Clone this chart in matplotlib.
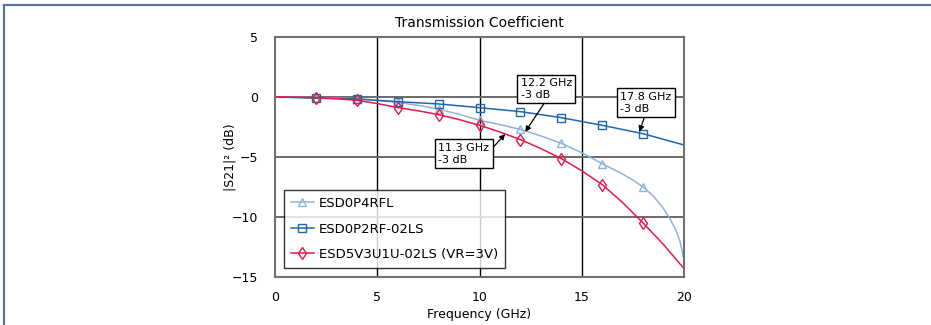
import matplotlib
matplotlib.use("Agg")
import matplotlib.pyplot as plt
from matplotlib.lines import Line2D

# marker frequencies (GHz)
freq_pts = [2, 4, 6, 8, 10, 12, 14, 16, 18]

# ESD0P4RFL (light blue, triangles)
p4rfl_pts = [-0.05, -0.15, -0.45, -1.0, -1.94, -2.7, -3.86, -5.55, -7.5]
p4rfl_f = [0, 1, 2, 3, 4, 5, 6, 7, 8, 9, 10, 11, 12, 13, 14, 15, 16, 17, 17.5, 18, 18.5, 19, 19.3, 19.6, 19.8, 20]
p4rfl_v = [0, -0.01, -0.05, -0.09, -0.15, -0.28, -0.45, -0.7, -1.0, -1.45, -1.94, -2.3, -2.7, -3.25, -3.86, -4.65, -5.55,
           -6.42, -6.92, -7.5, -8.25, -9.3, -10.1, -11.1, -12.0, -13.6]

# ESD0P2RF-02LS (blue, squares)
p2rf_pts = [-0.1, -0.17, -0.39, -0.58, -0.89, -1.22, -1.72, -2.36, -3.06]
p2rf_f = [0, 2, 4, 6, 8, 10, 12, 14, 16, 18, 20]
p2rf_v = [0, -0.1, -0.17, -0.39, -0.58, -0.89, -1.22, -1.72, -2.36, -3.06, -4.0]

# ESD5V3U1U-02LS (VR=3V) (red, diamonds)
v3_pts = [-0.05, -0.28, -0.88, -1.47, -2.36, -3.55, -5.13, -7.3, -10.5]
v3_f = [0, 1, 2, 3, 4, 5, 6, 7, 8, 9, 10, 11, 12, 13, 14, 15, 16, 17, 18, 19, 20]
v3_v = [0, -0.01, -0.05, -0.14, -0.28, -0.55, -0.88, -1.15, -1.47, -1.88, -2.36, -2.92, -3.55, -4.3, -5.13, -6.15, -7.3, -8.8, -10.5, -12.3, -14.3]

labels = ["ESD0P4RFL", "ESD0P2RF-02LS", "ESD5V3U1U-02LS (VR=3V)"]
colors = ["#8fb4d8", "#1f66b0", "#e8174a"]

# -3 dB annotations: (freq, box x, box y, relpos)
ann_freq = [12.2, 17.8, 11.3]
ann_box_x = [13.27, 18.12, 9.24]
ann_box_y = [0.67, -0.48, -4.72]
ann_relpos = [(0.5, 0), (0.5, 0), (1, 0.6)]

fig = plt.figure(figsize=(9.31, 3.25), dpi=100)
ax = fig.add_axes([0.2954, 0.1477, 0.4393, 0.7385])

ax.plot(p4rfl_f, p4rfl_v, color=colors[0], lw=1.1)
ax.plot(freq_pts, p4rfl_pts, ls='none', marker='^', ms=6, mfc='none', mec=colors[0], mew=1.0)
ax.plot(p2rf_f, p2rf_v, color=colors[1], lw=1.1)
ax.plot(freq_pts, p2rf_pts, ls='none', marker='s', ms=6, mfc='none', mec=colors[1], mew=1.0)
ax.plot(v3_f, v3_v, color=colors[2], lw=1.1)
ax.plot(freq_pts, v3_pts, ls='none', marker='d', ms=6, mfc='none', mec=colors[2], mew=1.0)

ax.set_xlim(0, 20)
ax.set_ylim(-15, 5)
ax.set_xticks([0, 5, 10, 15, 20])
ax.set_yticks([-15, -10, -5, 0, 5])
ax.tick_params(length=0, labelsize=9)
ax.tick_params(axis='y', pad=12)
ax.tick_params(axis='x', pad=10)
for x in [5, 10, 15]:
    ax.axvline(x, color='black', lw=1, zorder=0)
for y in [-10, -5, 0]:
    ax.axhline(y, color='#6a6a6a', lw=1.4, zorder=0)
for s in ax.spines.values():
    s.set_color('#707070')
    s.set_linewidth(1.5)

ax.set_xlabel("Frequency (GHz)", fontsize=9, labelpad=3)
ax.set_ylabel("|S21|² (dB)", fontsize=9, labelpad=-3)
ax.set_title("Transmission Coefficient", fontsize=10, pad=7,
             family=['Liberation Sans Narrow', 'DejaVu Sans'])

handles = [Line2D([], [], color=colors[0], lw=1.1, marker='^', ms=6, mfc='none', mec=colors[0]),
           Line2D([], [], color=colors[1], lw=1.1, marker='s', ms=6, mfc='none', mec=colors[1]),
           Line2D([], [], color=colors[2], lw=1.1, marker='d', ms=6, mfc='none', mec=colors[2])]
leg = ax.legend(handles, labels, loc='lower left', bbox_to_anchor=(0.022, 0.036),
                fontsize=9.5, frameon=True, fancybox=False, handlelength=1.7,
                handletextpad=0.4, labelspacing=0.95, borderpad=0.55, borderaxespad=0)
leg.get_frame().set_edgecolor('black')
leg.get_frame().set_linewidth(1.0)

for f, bx, by, rp in zip(ann_freq, ann_box_x, ann_box_y, ann_relpos):
    ax.annotate(f"{f} GHz\n-3 dB", xy=(f, -3), xytext=(bx, by),
                ha='center', va='center', multialignment='left', fontsize=8,
                linespacing=1.25,
                bbox=dict(boxstyle='square,pad=0.3', fc='white', ec='black', lw=1),
                arrowprops=dict(arrowstyle='-|>', color='black', lw=0.9,
                                mutation_scale=8, relpos=rp, shrinkA=0, shrinkB=1))

# frame around the figure (top and left edges)
fig.add_artist(Line2D([0.0041, 1.0], [0.984, 0.984], transform=fig.transFigure, color='#5b7595', lw=1.6))
fig.add_artist(Line2D([0.0041, 0.0041], [0.0, 0.984], transform=fig.transFigure, color='#5b7595', lw=1.6))

fig.savefig("out.png", dpi=100)
